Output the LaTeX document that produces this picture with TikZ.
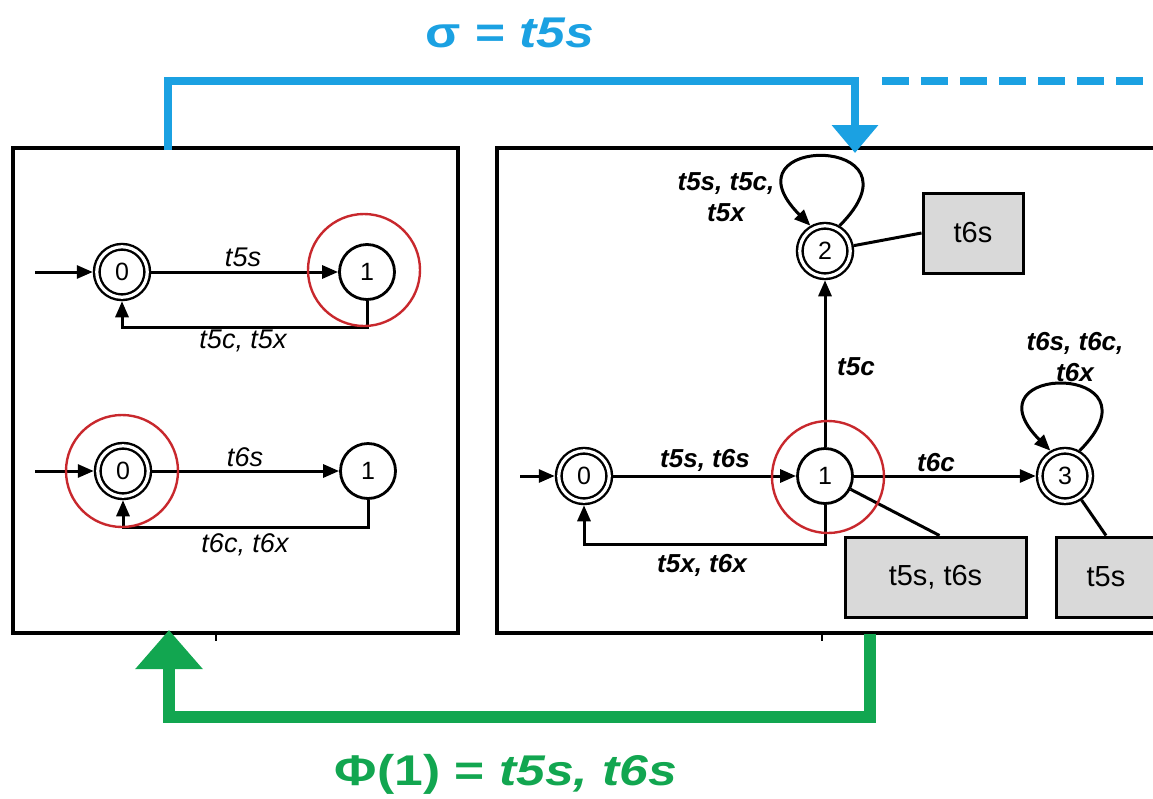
\documentclass[tikz,border=0pt]{standalone}
\usepackage{graphicx}
\usepackage{fontspec}
\setmainfont{Liberation Sans}
\usetikzlibrary{arrows.meta,calc}
\definecolor{sblue}{RGB}{27,161,226}
\definecolor{sgreen}{RGB}{18,166,80}
\definecolor{sred}{RGB}{200,40,45}
\definecolor{sgray}{RGB}{217,217,217}
\begin{document}
\begin{tikzpicture}[x=1pt,y=-1pt,
  container/.style={draw=black, line width=3.4pt, inner sep=0pt},
  st/.style={circle, draw, line width=2.8pt, minimum size=55pt, inner sep=0pt, font=\fontsize{25}{25}\selectfont},
  acc/.style={circle, draw, line width=2.4pt, double, double distance=3.2pt, minimum size=50.5pt, inner sep=0pt, outer sep=4pt, font=\fontsize{25}{25}\selectfont},
  ring/.style={circle, draw=sred, line width=2.4pt, minimum size=112pt, inner sep=0pt},
  edge/.style={line width=3pt, -{Triangle[length=16pt,width=13pt]}},
  link/.style={line width=3pt},
  outbox/.style={draw, fill=sgray, line width=3pt, minimum height=80pt, inner sep=0pt, font=\fontsize{29}{29}\selectfont},
  llab/.style={font=\fontsize{27}{27}\selectfont\itshape, inner sep=0pt},
  rlab/.style={font=\fontsize{26}{31}\selectfont\bfseries\itshape, inner sep=0pt, align=center},
  loopedge/.style={edge},
  tick/.style={line width=2pt},
  title/.style={font=\fontsize{43}{43}\selectfont\bfseries, inner sep=0pt},
]
\path[use as bounding box] (0,0) rectangle (1153,798);
\clip (0,0) rectangle (1153,798);

% containers
\node[container, minimum width=445pt, minimum height=485pt] (LB) at (235.5,390.5) {};
\node[container, minimum width=668pt, minimum height=485pt] (RB) at (831,390.5) {};

% ---------- left box, upper automaton
\node[acc] (A0) at (122,272) {0};
\node[st]  (A1) at (367,272) {1};
\coordinate (iA) at (35,272);
\draw[edge] (iA) -- (A0);
\draw[edge] (A0) -- (A1);
\draw[edge] (A1.south) -- ++(0,27) -| (A0.south);
\node[llab] (lA1) at (243,257) {t5s};
\node[llab] (lA2) at (243,341) {t5c, t5x};

% ---------- left box, lower automaton
\node[acc] (B0) at (123,471) {0};
\node[st]  (B1) at (368,471) {1};
\coordinate (iB) at (35,471);
\draw[edge] (iB) -- (B0);
\draw[edge] (B0) -- (B1);
\draw[edge] (B1.south) -- ++(0,28) -| (B0.south);
\node[llab] (lB1) at (245,457) {t6s};
\node[llab] (lB2) at (245,545) {t6c, t6x};

% ---------- right box automaton
\node[acc] (C0) at (584,476) {0};
\node[st]  (C1) at (825,476) {1};
\node[acc] (C2) at (825,251) {2};
\node[acc] (C3) at (1065,476) {3};
\coordinate (iC) at (520,476);
\draw[edge] (iC) -- (C0);
\draw[edge] (C0) -- (C1);
\draw[edge] (C1.south) -- ++(0,40) -| (C0.south);
\draw[edge] (C1) -- (C2);
\draw[edge] (C1) -- (C3);
\draw[loopedge] (C2.60) .. controls +(-45:130) and +(-135:130) .. (C2.120);
\draw[loopedge] (C3.60) .. controls +(-45:125) and +(-135:125) .. (C3.120);
\node[rlab] (lC1) at (705,460) {t5s, t6s};
\node[rlab] (lC2) at (702,565) {t5x, t6x};
\node[rlab, anchor=west] (lC3) at (837,367) {t5c};
\node[rlab] (lC4) at (936,463) {t6c};
\node[rlab] (lC5) at (726,197) {t5s, t5c,\\t5x};
\node[rlab] (lC6) at (1075,357) {t6s, t6c,\\t6x};

% output boxes
\node[outbox, minimum width=100pt] (D1) at (973,233) {t6s};
\node[outbox, minimum width=181pt] (D2) at (935.5,577) {t5s, t6s};
\node[outbox, minimum width=100pt] (D3) at (1106,577) {t5s};
\draw[link] (C2) -- (D1.west);
\draw[link] (C1) -- ($(D2.north)+(4,0)$);
\draw[link] (C3) -- (D3.north);

% red rings
\node[ring] (R1) at (364,270) {};
\node[ring] (R2) at (122,471) {};
\node[ring] (R3) at (828,477) {};

% small ticks on box bottoms
\coordinate (tk1) at (216,633);
\coordinate (tk2) at (822,633);
\draw[tick] (tk1) -- ++(0,8);
\draw[tick] (tk2) -- ++(0,8);

% blue connector
\coordinate (bs) at (168,150);
\coordinate (be) at (855,153);
\draw[draw=sblue, line width=8pt, -{Triangle[length=28pt,width=45pt]}, color=sblue] (bs) -- ++(0,-69) -| (be);
\coordinate (ds) at (882,81);
\coordinate (de) at (1153,81);
\draw[draw=sblue, line width=8pt, dash pattern=on 27pt off 12pt] (ds) -- (de);
\node[title, text=sblue] (T1) at (510,33) {\scalebox{1.2}[1]{σ = \textit{t5s}}};

% green connector
\coordinate (gs) at (870,634);
\coordinate (ge) at (169,630);
\draw[draw=sgreen, color=sgreen, line width=12pt, -{Triangle[length=39pt,width=65pt]}] (gs) -- ++(0,83) -| (ge);
\node[title, text=sgreen] (T2) at (506,774) {\scalebox{1.2}[1]{Φ(1) = \textit{t5s, t6s}}};
\end{tikzpicture}
\end{document}
